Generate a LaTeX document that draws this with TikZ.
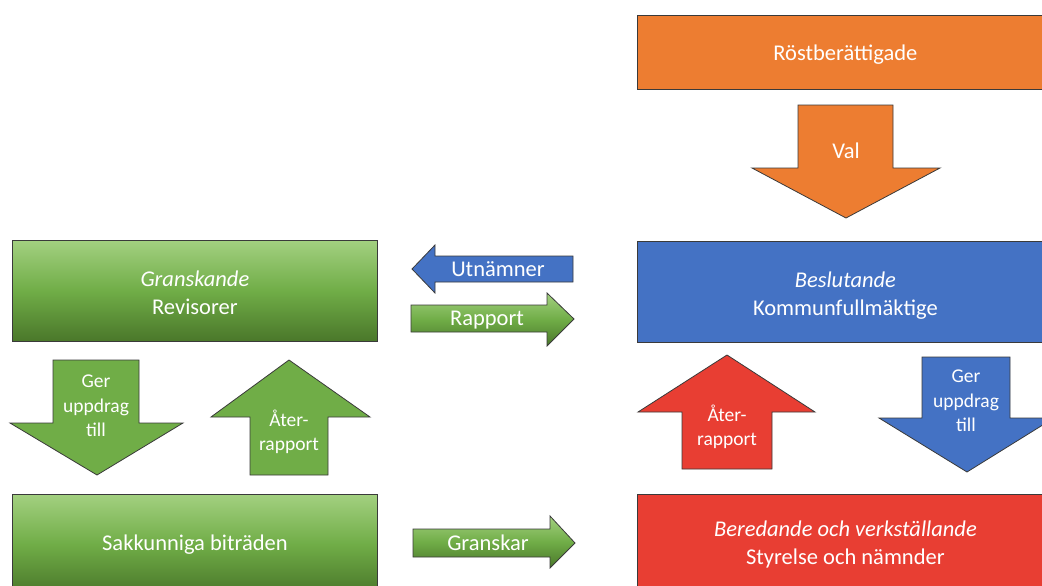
\documentclass[tikz,border=0pt]{standalone}
\usepackage{fontspec}
\setmainfont{Carlito}
\definecolor{orangeF}{HTML}{ED7D31}
\definecolor{blueF}{HTML}{4472C4}
\definecolor{redF}{HTML}{E83E33}
\definecolor{greenF}{HTML}{70AD47}
\definecolor{greenT}{HTML}{A3D080}
\definecolor{greenB}{HTML}{4A772A}
\definecolor{edge}{HTML}{3A3A3A}
\tikzset{
  box/.style={draw=edge, line width=0.8pt, rectangle, anchor=north west, inner sep=0pt,
              text=white, align=center, font=\fontsize{22.5}{28}\selectfont},
  gbox/.style={box, top color=greenT, bottom color=greenB, middle color=greenF},
  blockarrow/.style={draw=edge, line width=0.8pt},
  garrow/.style={blockarrow, top color=greenT, bottom color=greenB, middle color=greenF},
  albl/.style={text=white, align=center, font=\fontsize{19.5}{24.5}\selectfont, inner sep=0pt},
  hlbl/.style={text=white, align=center, font=\fontsize{22.5}{27}\selectfont, inner sep=0pt},
}
\begin{document}
\begin{tikzpicture}[x=1pt,y=-1pt]
\useasboundingbox (0,0) rectangle (1042,586);
\clip (0,0) rectangle (1042,586);

% boxes
\node[box, fill=orangeF, minimum width=416pt, minimum height=74pt] (rost) at (637,15) {};
\node[hlbl] (rostt) at ([yshift=-2pt]rost.center) {Röstberättigade};
\node[box, fill=blueF, minimum width=416pt, minimum height=101pt] (besl) at (637,241) {};
\node[hlbl, font=\fontsize{22.5}{28}\selectfont] (beslt) at ([yshift=-4pt]besl.center) {\itshape Beslutande\\Kommunfullmäktige};
\node[box, fill=redF, minimum width=416pt, minimum height=100pt] (bered) at (637,494) {\itshape Beredande och verkställande\\Styrelse och nämnder};
\node[gbox, minimum width=365pt, minimum height=101pt] (rev) at (12,240) {};
\node[hlbl, font=\fontsize{22.5}{28}\selectfont] (revt) at ([yshift=-1.5pt]rev.center) {\itshape Granskande\\Revisorer};
\node[gbox, minimum width=365pt, minimum height=100pt] (sak) at (12,494) {Sakkunniga biträden};

% Val (down, orange)
\draw[blockarrow, fill=orangeF] (798,105) -- (893,105) -- (893,168) -- (940,168) -- (846,218)
  -- (752,168) -- (798,168) -- cycle;
\node[hlbl] (val) at (846,151) {Val};

% Utnämner (left, blue)
\draw[blockarrow, fill=blueF] (573,256) -- (573,282) -- (435,282) -- (435,293) -- (412,269)
  -- (435,245) -- (435,256) -- cycle;
\node[hlbl] (utn) at (498,269.5) {Utnämner};

% Rapport (right, green gradient)
\draw[garrow] (411,305) -- (547,305) -- (547,293) -- (574,319) -- (547,346) -- (547,332)
  -- (411,332) -- cycle;
\node[hlbl] (rap) at (487,320) {Rapport};

% Granskar (right, green gradient)
\draw[garrow] (413,529) -- (550,529) -- (550,516) -- (575,543) -- (550,568) -- (550,557)
  -- (413,557) -- cycle;
\node[hlbl] (gra) at (488,543) {Granskar};

% Ger uppdrag till (down, green)
\draw[blockarrow, fill=greenF] (53,360) -- (139,360) -- (139,423) -- (183,423) -- (97,475)
  -- (10,423) -- (53,423) -- cycle;
\node[albl] (ger1) at (96,406) {Ger\\uppdrag\\till};

% Åter-rapport (up, green)
\draw[blockarrow, fill=greenF] (289,360) -- (370,417) -- (328,417) -- (328,475) -- (250,475)
  -- (250,417) -- (211,417) -- cycle;
\node[albl] (ater1) at (289,432) {Åter-\\rapport};

% Åter-rapport (up, red)
\draw[blockarrow, fill=redF] (727,355) -- (815,412) -- (772,412) -- (772,469) -- (682,469)
  -- (682,412) -- (638,412) -- cycle;
\node[albl] (ater2) at (727,427) {Åter-\\rapport};

% Ger uppdrag till (down, blue)
\draw[blockarrow, fill=blueF] (922,357) -- (1010,357) -- (1010,418) -- (1054,418) -- (967,472)
  -- (879,418) -- (922,418) -- cycle;
\node[albl] (ger2) at (966,401) {Ger\\uppdrag\\till};
\end{tikzpicture}
\end{document}
